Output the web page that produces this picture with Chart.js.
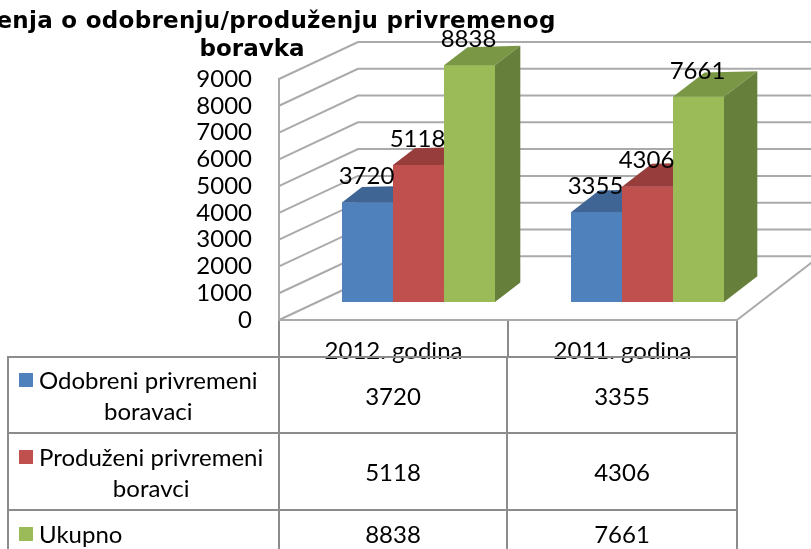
<!DOCTYPE html>
<html>
<head>
<meta charset="utf-8">
<script src="https://cdn.jsdelivr.net/npm/chart.js@4.4.1/dist/chart.umd.min.js"></script>
<style>
html,body{margin:0;padding:0;background:#fff;overflow:hidden}
#wrap{position:relative;width:811px;height:549px;overflow:hidden;background:#fff}
#c{position:absolute;left:0;top:0}
#title{position:absolute;left:-148px;top:6px;width:800px;text-align:center;font-family:"DejaVu Sans";font-weight:bold;font-size:23px;line-height:28px;color:#000;white-space:nowrap}
#t1{position:relative;left:-4px;letter-spacing:0.3px}
#tbl{position:absolute;left:7px;top:356px;border-collapse:collapse;table-layout:fixed;font-family:Lato;font-size:24px;color:#000}
#tbl td{border:2px solid #8c8c8c;padding:0;vertical-align:middle;text-align:center}
#tbl td.leg{text-align:left}
.lg{display:flex;align-items:flex-start;padding-left:10px}
.sq{display:inline-block;width:14px;height:14px;margin-top:9px;margin-right:6px;flex:none}
.tx{display:inline-block;text-align:center;line-height:31px}
</style>
</head>
<body>
<div id="wrap">
<canvas id="c" width="811" height="549"></canvas>
<div id="title"><span id="t1">Rješenja o odobrenju/produženju privremenog</span><br>boravka</div>
<table id="tbl">
<colgroup><col style="width:271px"><col style="width:228px"><col style="width:230px"></colgroup>
<tbody id="tb"></tbody>
</table>
</div>
<script>
// ---- data ----
const categories = ['2012. godina', '2011. godina'];
const seriesNames = ['Odobreni privremeni boravaci', 'Produženi privremeni boravaci', 'Ukupno'];
const seriesLines = [['Odobreni privremeni', 'boravaci'], ['Produženi privremeni', 'boravci'], ['Ukupno']];
const odobreni = [3720, 3355];
const produzeni = [5118, 4306];
const ukupno = [8838, 7661];
const yMin = 0, yMax = 9000, yStep = 1000;

// ---- styles ----
const colors = ['#4F81BD', '#C0504D', '#9BBB59'];
const topColors = ['#3E6594', '#973D3B', '#7A9746'];
const sideColors = ['#375a85', '#863634', '#667F3A'];
const seriesValues = [odobreni, produzeni, ukupno];

// table (HTML, real text)
const tb = document.getElementById('tb');
const rowHeights = [76, 77, 46];
seriesNames.forEach((name, i) => {
  const tr = document.createElement('tr');
  tr.style.height = rowHeights[i] + 'px';
  const lg = document.createElement('td');
  lg.className = 'leg';
  lg.innerHTML = '<div class="lg"><span class="sq" style="background:' + colors[i] + '"></span><span class="tx">' +
    seriesLines[i].join('<br>') + '</span></div>';
  lg.title = name;
  tr.appendChild(lg);
  seriesValues[i].forEach(v => {
    const td = document.createElement('td');
    td.textContent = String(v);
    tr.appendChild(td);
  });
  tb.appendChild(tr);
});

// ---- 3D look ----
const BACK_DX = 79, BACK_DY = -37;   // back wall offset
const BAR_DX = 25, BAR_DY = -18;     // bars stand mid-depth
const FLOOR_R_DX = 74, FLOOR_R_DY = -57;
function depth(sx) { const dx = 8 + 0.035 * sx; return [dx, -0.77 * dx]; }

const fake3d = {
  id: 'fake3d',
  beforeDatasetsDraw(chart) {
    const ctx = chart.ctx, ys = chart.scales.y, a = chart.chartArea;
    ctx.save();
    ctx.strokeStyle = '#aaaaaa';
    ctx.lineWidth = 2;
    ys.ticks.forEach(t => {
      const yF = ys.getPixelForValue(t.value);
      ctx.beginPath();
      ctx.moveTo(a.left, yF);
      ctx.lineTo(a.left + BACK_DX, yF + BACK_DY);
      if (t.value > yMin) ctx.lineTo(chart.width + 5, yF + BACK_DY);
      ctx.stroke();
    });
    const y0 = ys.getPixelForValue(yMin);
    ctx.beginPath();
    ctx.moveTo(a.right, y0);
    ctx.lineTo(a.right + FLOOR_R_DX * 1.5, y0 + FLOOR_R_DY * 1.5);
    ctx.stroke();
    ctx.restore();
    ctx.save();
    ctx.translate(BAR_DX, BAR_DY);
  },
  afterDatasetsDraw(chart) {
    const ctx = chart.ctx;
    const n = chart.data.datasets.length;
    // redraw each group from left bar to right bar so the 3D faces overlap correctly
    categories.forEach((c, j) => {
      for (let i = 0; i < n; i++) {
        const el = chart.getDatasetMeta(i).data[j];
        el.draw(ctx, chart.chartArea);
        const p = el.getProps(['x', 'y', 'base', 'width'], true);
        const L = p.x - p.width / 2, R = p.x + p.width / 2, T = p.y, B = p.base;
        const [dxL, dyL] = depth(L + BAR_DX);
        const [dxR, dyR] = depth(R + BAR_DX);
        ctx.fillStyle = topColors[i];
        ctx.beginPath();
        ctx.moveTo(L, T); ctx.lineTo(R, T); ctx.lineTo(R + dxR, T + dyR); ctx.lineTo(L + dxL, T + dyL);
        ctx.closePath(); ctx.fill();
        ctx.fillStyle = sideColors[i];
        ctx.beginPath();
        ctx.moveTo(R, T); ctx.lineTo(R + dxR, T + dyR); ctx.lineTo(R + dxR, B + dyR); ctx.lineTo(R, B);
        ctx.closePath(); ctx.fill();
      }
    });
    ctx.font = '24px Lato';
    ctx.fillStyle = '#000';
    ctx.textAlign = 'center';
    ctx.textBaseline = 'middle';
    chart.data.datasets.forEach((ds, i) => {
      chart.getDatasetMeta(i).data.forEach((el, j) => {
        ctx.fillText(String(ds.data[j]), el.x - 1, el.y - 26);
      });
    });
    ctx.restore();
  }
};

new Chart(document.getElementById('c'), {
  type: 'bar',
  data: {
    labels: categories,
    datasets: seriesNames.map((n, i) => ({
      label: n,
      data: seriesValues[i],
      backgroundColor: colors[i],
      borderWidth: 0,
      clip: false,
      categoryPercentage: 0.668,
      barPercentage: 1
    }))
  },
  options: {
    responsive: false,
    animation: false,
    events: [],
    layout: { padding: { left: 0, right: 74, top: 79, bottom: 179 } },
    plugins: { legend: { display: false }, tooltip: { enabled: false }, title: { display: false } },
    scales: {
      x: {
        type: 'category',
        offset: true,
        afterFit(s) { s.height = 50; },
        grid: { display: true, drawOnChartArea: false, drawTicks: true, tickLength: 37, color: '#8c8c8c', lineWidth: 2, offset: true },
        border: { display: true, color: '#aaaaaa', width: 2 },
        ticks: { font: { family: 'Lato', size: 24 }, color: '#000', padding: -20, maxRotation: 0, autoSkip: false }
      },
      y: {
        min: yMin, max: yMax,
        afterFit(s) { s.width = 279; },
        grid: { display: false, drawTicks: false },
        border: { display: true, color: '#aaaaaa', width: 2 },
        ticks: {
          stepSize: yStep, autoSkip: false, maxTicksLimit: 20,
          font: { family: 'Lato', size: 24, lineHeight: 1.0 }, color: '#000', padding: 27,
          callback: v => String(v)
        }
      }
    }
  },
  plugins: [fake3d]
});
</script>
</body>
</html>
